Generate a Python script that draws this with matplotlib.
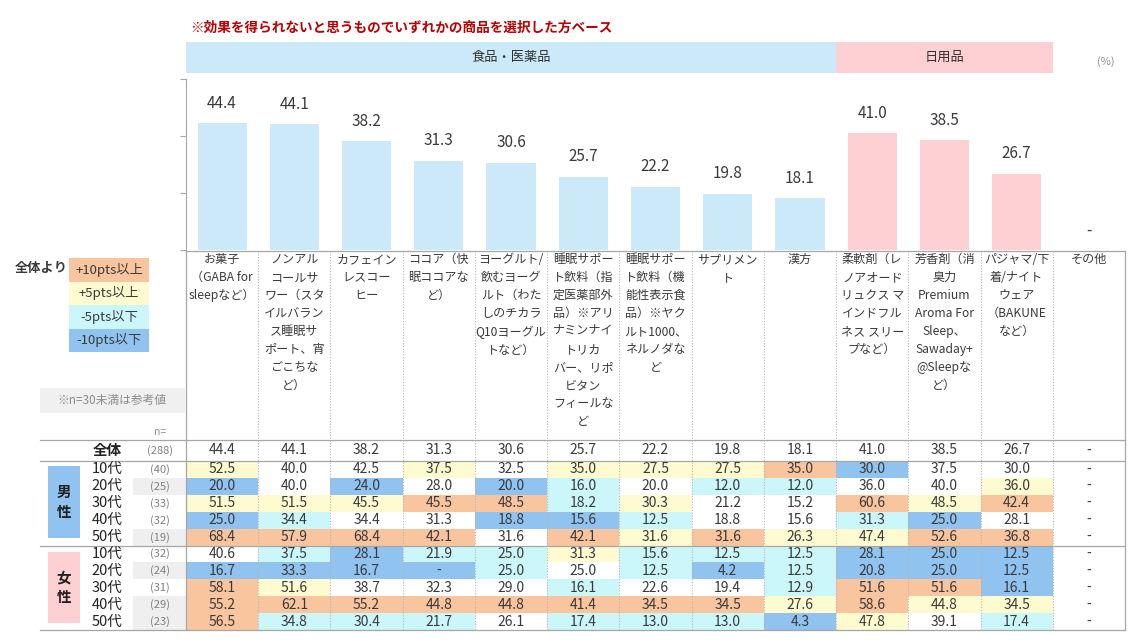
import matplotlib
matplotlib.use("Agg")
import matplotlib.pyplot as plt
from matplotlib.patches import Rectangle

plt.rcParams['font.family'] = ['Noto Sans CJK JP', 'DejaVu Sans']

title = "※効果を得られないと思うものでいずれかの商品を選択した方ベース"
groups = ["食品・医薬品", "日用品"]
group_sizes = [9, 3]
categories = [
    "お菓子\n（GABA for\nsleepなど）",
    "ノンアル\nコールサ\nワー（スタ\nイルバラン\nス睡眠サ\nポート、宵\nごこちな\nど）",
    "カフェイン\nレスコー\nヒー",
    "ココア（快\n眠ココアな\nど）",
    "ヨーグルト/\n飲むヨーグ\nルト（わた\nしのチカラ\nQ10ヨーグル\nトなど）",
    "睡眠サポー\nト飲料（指\n定医薬部外\n品）※アリ\nナミンナイ\nトリカ\nバー、リポ\nビタン\nフィールな\nど",
    "睡眠サポー\nト飲料（機\n能性表示食\n品）※ヤク\nルト1000、\nネルノダな\nど",
    "サプリメン\nト",
    "漢方",
    "柔軟剤（レ\nノアオード\nリュクス マ\nインドフル\nネス スリー\nプなど）",
    "芳香剤（消\n臭力\nPremium\nAroma For\nSleep、\nSawaday+\n@Sleepな\nど）",
    "パジャマ/下\n着/ナイト\nウェア\n（BAKUNE\nなど）",
    "その他",
]
total = [44.4, 44.1, 38.2, 31.3, 30.6, 25.7, 22.2, 19.8, 18.1, 41.0, 38.5, 26.7, None]
total_n = 288
ages = ["10代", "20代", "30代", "40代", "50代"]
male_n = [40, 25, 33, 32, 19]
female_n = [32, 24, 31, 29, 23]
male = [
    [52.5, 40.0, 42.5, 37.5, 32.5, 35.0, 27.5, 27.5, 35.0, 30.0, 37.5, 30.0, None],
    [20.0, 40.0, 24.0, 28.0, 20.0, 16.0, 20.0, 12.0, 12.0, 36.0, 40.0, 36.0, None],
    [51.5, 51.5, 45.5, 45.5, 48.5, 18.2, 30.3, 21.2, 15.2, 60.6, 48.5, 42.4, None],
    [25.0, 34.4, 34.4, 31.3, 18.8, 15.6, 12.5, 18.8, 15.6, 31.3, 25.0, 28.1, None],
    [68.4, 57.9, 68.4, 42.1, 31.6, 42.1, 31.6, 31.6, 26.3, 47.4, 52.6, 36.8, None],
]
female = [
    [40.6, 37.5, 28.1, 21.9, 25.0, 31.3, 15.6, 12.5, 12.5, 28.1, 25.0, 12.5, None],
    [16.7, 33.3, 16.7, 0.0, 25.0, 25.0, 12.5, 4.2, 12.5, 20.8, 25.0, 12.5, None],
    [58.1, 51.6, 38.7, 32.3, 29.0, 16.1, 22.6, 19.4, 12.9, 51.6, 51.6, 16.1, None],
    [55.2, 62.1, 55.2, 44.8, 44.8, 41.4, 34.5, 34.5, 27.6, 58.6, 44.8, 34.5, None],
    [56.5, 34.8, 30.4, 21.7, 26.1, 17.4, 13.0, 13.0, 4.3, 47.8, 39.1, 17.4, None],
]
legend_labels = ["+10pts以上", "+5pts以上", "-5pts以下", "-10pts以下"]

c_up10, c_up5, c_dn5, c_dn10 = "#f9c59f", "#fefbd0", "#ccf7fa", "#90c3f0"
c_band_blue, c_band_pink = "#cce9f9", "#ffd0d3"
c_text = "#3a3a3a"
c_line = "#a6a6a6"

W, H = 1132, 641
X0, X1 = 186, 1125
CW = (X1 - X0) / len(categories)


def cell_color(v, base):
    if v is None or base is None:
        return None
    d = round(v - base, 1)
    if d > 10:
        return c_up10
    if d > 5:
        return c_up5
    if d < -10:
        return c_dn10
    if d < -5:
        return c_dn5
    return None


def fmt(v):
    return "-" if v is None or v == 0 else f"{v:.1f}"


fig = plt.figure(figsize=(W / 100, H / 100), dpi=100)
ax0 = fig.add_axes([0, 0, 1, 1])
ax0.set_xlim(0, W)
ax0.set_ylim(H, 0)
ax0.axis("off")

# bar chart
ax = fig.add_axes([X0 / W, 1 - 250 / H, (X1 - X0) / W, (250 - 79) / H])
ax.patch.set_alpha(0)
n_food = group_sizes[0]
bar_vals = [v if v is not None else 0 for v in total]
bar_cols = [c_band_blue if i < n_food else c_band_pink for i in range(len(total))]
ax.bar(range(len(total)), bar_vals, width=0.68, color=bar_cols)
for i, v in enumerate(total):
    ax.text(i, (v or 0) + 7, fmt(v), ha="center", va="center", fontsize=11, color=c_text)
ax.set_xlim(-0.5, len(categories) - 0.5)
ax.set_ylim(0, 60)
ax.set_yticks([0, 20, 40, 60])
ax.set_yticklabels([])
ax.set_xticks([])
for s in ["top", "right", "bottom"]:
    ax.spines[s].set_visible(False)
ax.spines["left"].set_color(c_line)
ax.tick_params(axis="y", length=4, color=c_line)

# title and group bands
ax0.text(190, 28, title, fontsize=9.8, fontweight="bold", color="#b80000", va="center")
start = 0
for g, size, col in zip(groups, group_sizes, [c_band_blue, c_band_pink]):
    x = X0 + start * CW
    ax0.add_patch(Rectangle((x, 42), size * CW, 31, color=col, lw=0))
    ax0.text(x + size * CW / 2, 57, g, ha="center", va="center", fontsize=9.5, color="#303030")
    start += size
ax0.text(1106, 62, "(%)", ha="center", va="center", fontsize=8, color="#909090")

# category labels
for i, c in enumerate(categories):
    ax0.text(X0 + (i + 0.5) * CW, 253, c, ha="center", va="top", fontsize=8.7,
             color=c_text, linespacing=1.5, multialignment="center")

# legend
ax0.text(41, 268, "全体より", ha="center", va="center", fontsize=9.5, fontweight="bold", color=c_text)
for k, (lab, col) in enumerate(zip(legend_labels, [c_up10, c_up5, c_dn5, c_dn10])):
    y = 258 + k * 23.5
    ax0.add_patch(Rectangle((69, y), 80, 23.5, color=col, lw=0))
    ax0.text(109, y + 11.75, lab, ha="center", va="center", fontsize=9.5, color=c_text)

ax0.add_patch(Rectangle((40, 388), 145, 25, color="#f0f0f0", lw=0))
ax0.text(112, 400.5, "※n=30未満は参考値", ha="center", va="center", fontsize=8.5, color="#8c8c8c")
ax0.text(166, 432, "n=", ha="right", va="center", fontsize=7.5, color="#909090")

# table
RH = 16.9
rows = [("全体", total_n, total, 440, 21)]
for k in range(5):
    rows.append((ages[k], male_n[k], male[k], 461 + k * RH, RH))
for k in range(5):
    rows.append((ages[k], female_n[k], female[k], 461 + (5 + k) * RH, RH))

for r, (lab, n, vals, y, h) in enumerate(rows):
    yc = y + h / 2
    if n < 30:
        ax0.add_patch(Rectangle((133, y), 53, h, color="#efefef", lw=0))
    ax0.text(107, yc, lab, ha="center", va="center", fontsize=10.5,
             fontweight="bold" if r == 0 else "normal", color="#222222")
    ax0.text(160, yc, f"({n})", ha="center", va="center", fontsize=8, color="#808080")
    for i, v in enumerate(vals):
        col = cell_color(v, total[i]) if r > 0 else None
        if col:
            ax0.add_patch(Rectangle((X0 + i * CW, y), CW, h, color=col, lw=0))
        ax0.text(X0 + (i + 0.5) * CW, yc, fmt(v), ha="center", va="center", fontsize=10, color=c_text)

ax0.add_patch(Rectangle((48, 466), 32, 72, color=c_dn10, lw=0))
ax0.text(64, 502, "男\n性", ha="center", va="center", fontsize=10.5, fontweight="bold", color="#222222", linespacing=1.3)
ax0.add_patch(Rectangle((48, 552), 32, 71, color=c_band_pink, lw=0))
ax0.text(64, 587.5, "女\n性", ha="center", va="center", fontsize=10.5, fontweight="bold", color="#222222", linespacing=1.3)

# grid lines
table_bottom = 461 + 10 * RH
ax0.plot([X0, X1], [251, 251], color=c_line, lw=0.9)
for y in [440, 461, 461 + 5 * RH, table_bottom]:
    ax0.plot([40, X1], [y, y], color=c_line, lw=0.9)
ax0.plot([X0, X0], [251, table_bottom], color=c_line, lw=0.9)
ax0.plot([X1, X1], [251, table_bottom], color=c_line, lw=0.9)
for i in range(1, len(categories)):
    x = X0 + i * CW
    ax0.plot([x, x], [251, table_bottom], color="#b5b5b5", lw=0.8, ls=(0, (1, 1.5)))

fig.savefig("out.png", dpi=100)
